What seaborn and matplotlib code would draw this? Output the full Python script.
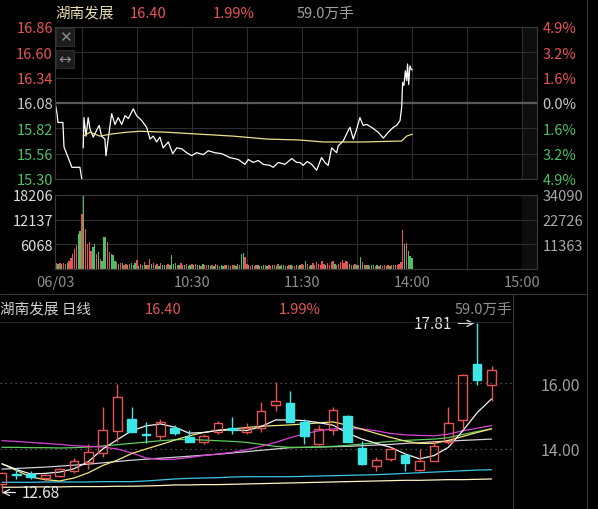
import matplotlib
matplotlib.use("Agg")
import matplotlib.pyplot as plt
import seaborn as sns
import numpy as np
from matplotlib.lines import Line2D
from matplotlib.patches import Rectangle

# ---------------- 数据 ----------------
stock_name = "湖南发展"
last_price = "16.40"
pct_change = "1.99%"
volume_text = "59.0万手"
prev_close = 16.08

# 分时价格（横轴: 距9:30的分钟数, 13:00 接 120）
auction_t = [-14.7, -13.6, -13.1, -10.4, -9.8, -6.5, -5.5, -1.1, -0.1]
auction_p = [16.09, 15.97, 15.88, 15.88, 15.63, 15.47, 15.42, 15.42, 15.30]

price_t = [0.7, 1.1, 2.2, 3.4, 4.4, 6.2, 8.0, 9.4, 10.7, 12.5,
           13.1, 14.3, 16.2, 18.0, 19.8, 21.7, 23.5, 25.3, 28.0, 29.8,
           32.6, 35.3, 37.1, 38.9, 40.7, 42.5, 44.3, 47.1, 49.5, 51.7,
           54.4, 57.1, 59.8, 62.6, 66.2, 68.9, 72.5, 76.2, 80.7, 85.3,
           88.9, 90.7, 93.4, 96.2, 98.9, 102.5, 104.3, 107.1, 110.7, 114.4,
           117.1, 118.9, 120.7, 122.9, 125.3, 128.0, 130.7, 132.5, 134.3, 136.2,
           138.9, 139.8, 142.5, 145.3, 146.2, 148.0, 149.8, 151.6, 153.4, 155.3,
           158.0, 161.6, 164.4, 167.1, 169.8, 171.7, 173.5, 174.4, 174.9, 175.6,
           176.4, 177.1, 177.6, 178.2, 178.9, 179.5, 180.2]
price_p = [15.62, 15.93, 15.74, 15.93, 15.81, 15.73, 15.80, 15.85, 15.74, 15.71,
           15.54, 15.71, 15.97, 15.86, 15.93, 15.86, 15.95, 15.92, 16.02, 15.95,
           15.90, 15.83, 15.71, 15.74, 15.68, 15.73, 15.62, 15.68, 15.56, 15.62,
           15.61, 15.57, 15.54, 15.57, 15.55, 15.59, 15.57, 15.56, 15.52, 15.50,
           15.45, 15.50, 15.47, 15.49, 15.45, 15.44, 15.42, 15.47, 15.45, 15.51,
           15.47, 15.47, 15.44, 15.48, 15.45, 15.39, 15.52, 15.47, 15.44, 15.62,
           15.57, 15.64, 15.69, 15.80, 15.83, 15.71, 15.81, 15.93, 15.85, 15.86,
           15.83, 15.78, 15.72, 15.78, 15.83, 15.85, 15.90, 16.04, 16.29, 16.26,
           16.41, 16.31, 16.48, 16.27, 16.46, 16.43, 16.42]

avg_t = [0.7, 4.4, 9.8, 15.3, 24.4, 31.6, 46.2, 64.4, 82.5, 100.7, 118.9, 131.6, 153.4, 174.4, 177.1, 180.2]
avg_p = [15.74, 15.78, 15.74, 15.76, 15.78, 15.79, 15.78, 15.76, 15.74, 15.71, 15.70, 15.68, 15.68, 15.69, 15.74, 15.76]

price_ticks = [16.86, 16.60, 16.34, 16.08, 15.82, 15.56, 15.30]
pct_labels = ["4.9%", "3.2%", "1.6%", "0.0%", "1.6%", "3.2%", "4.9%"]

# 分时成交量
auction_vt = [-14, -13, -12, -11, -10, -9, -8, -7, -6, -5, -4, -3, -2, -1]
auction_v = [1400, 1300, 1400, 1200, 1400, 1300, 1500, 2000, 2800, 3600, 4800, 6000, 8600, 9400]
auction_dir = "rgrgrrgrrrrrgg"

vol = [13500, 18200, 9840, 6150, 6560, 4500, 5330, 6150, 3690, 4100,
       2460, 2050, 7950, 7800, 6560, 4100, 3690, 3500, 2050, 1640,
       1230, 1560, 1390, 1100, 1300, 900, 1200, 1500, 1000, 1400,
       2200, 800, 1300, 1000, 1600, 900, 1100, 2460, 1300, 1500,
       1000, 1200, 800, 1400, 1000, 1100, 900, 1300, 1000, 3440,
       1200, 1400, 1000, 900, 1500, 1100, 1000, 1300, 800, 1000,
       1200, 900, 1300, 1000, 1100, 800, 1200, 1000, 900, 1100,
       700, 1000, 800, 1200, 900, 700, 1000, 800, 1100, 900,
       1000, 700, 900, 1000, 800, 1200, 900, 3690, 3850, 3030,
       1200, 900, 800, 1000, 700, 900, 1100, 800, 700, 1000,
       900, 800, 1100, 700, 1000, 900, 800, 1200, 700, 900,
       1000, 800, 700, 900, 1100, 800, 700, 900, 800, 1000,
       1300, 1000, 1890, 1200, 800, 1100, 1400, 900, 1600, 1200,
       1000, 1890, 1300, 1100, 1500, 900, 1600, 1890, 1300, 1000,
       1200, 1700, 2200, 1500, 2000, 1700, 1300, 1000, 900, 1200,
       1100, 1000, 2870, 1600, 1000, 900, 1100, 800, 1000, 900,
       800, 1000, 700, 900, 800, 1000, 700, 900, 800, 1000,
       900, 1100, 1000, 1300, 1600, 9600, 6150, 6400, 4500, 3280,
       2700]
vol_dir = ("rgrrrrggrg" "rgggrrgggr" "grgrrgrggg" "rgrgrgrrgr" "grgrggrrgg"
           "ggrgrrgrgg" "rgrggrgrrg" "grgrgrggrg" "rgrrggrggr" "rgrgrrgrgg"
           "rgrrgrgrgg" "grgrgrrgrg" "rrgrrgrrrr" "rrrgrrrrgr" "rrrrrrgrgr"
           "grgrgrgrgg" "rgrgrrgrgr" "rgrrrrgrgg" "g")
vol_ticks = [6068, 12137, 18206]
amt_ticks = [11363, 22726, 34090]

time_ticks = [-14.5, 60, 120, 180, 240]
time_labels = ["06/03", "10:30", "11:30", "14:00", "15:00"]
grid_t = [0, 30, 60, 90, 120, 150, 180, 210, 240]

# 日K线
opens = [12.94, 13.25, 13.24, 13.13, 13.17, 13.32, 13.62, 13.88, 14.55, 14.90,
         14.45, 14.40, 14.63, 14.35, 14.20, 14.52, 14.64, 14.51, 14.63, 15.34,
         15.39, 14.83, 14.14, 14.59, 15.01, 14.03, 13.49, 13.70, 13.83, 13.36,
         13.65, 14.20, 14.88, 16.58, 15.94]
highs = [13.30, 13.42, 13.32, 13.23, 13.42, 13.72, 14.15, 15.26, 15.97, 15.26,
         14.81, 14.91, 14.73, 14.58, 14.45, 14.86, 14.96, 14.79, 15.43, 16.02,
         15.77, 14.91, 14.73, 15.26, 15.04, 14.25, 13.75, 14.07, 13.85, 14.00,
         14.25, 15.26, 16.27, 17.81, 16.52]
lows = [12.68, 13.09, 13.09, 13.04, 13.14, 13.27, 13.39, 13.75, 14.20, 14.50,
        14.18, 14.28, 14.43, 14.20, 14.15, 14.45, 14.45, 14.45, 14.51, 15.16,
        14.81, 14.15, 14.12, 14.42, 14.20, 13.52, 13.34, 13.65, 13.34, 13.34,
        13.63, 14.15, 14.61, 15.95, 15.46]
closes = [13.27, 13.22, 13.15, 13.20, 13.39, 13.65, 13.90, 14.58, 15.57, 14.52,
          14.42, 14.81, 14.47, 14.22, 14.40, 14.79, 14.58, 14.63, 15.16, 15.45,
          14.83, 14.38, 14.61, 15.18, 14.20, 13.55, 13.68, 14.00, 13.57, 13.64,
          14.10, 14.78, 16.25, 16.08, 16.40]

ma_white = [13.55, 13.38, 13.24, 13.26, 13.30, 13.40, 13.62, 14.00, 14.28, 14.55,
            14.70, 14.76, 14.66, 14.48, 14.50, 14.56, 14.58, 14.56, 14.68, 14.88,
            14.88, 14.86, 14.80, 14.72, 14.48, 14.30, 14.17, 14.05, 13.85, 13.70,
            13.80, 14.05, 14.55, 15.10, 15.52]
ma_yellow = [13.55, 13.35, 13.15, 13.07, 13.03, 13.12, 13.28, 13.50, 13.66, 13.86,
             14.00, 14.13, 14.27, 14.40, 14.50, 14.57, 14.61, 14.65, 14.69, 14.71,
             14.73, 14.76, 14.79, 14.82, 14.72, 14.60, 14.47, 14.35, 14.24, 14.17,
             14.17, 14.26, 14.38, 14.50, 14.61]
ma_magenta = [14.25, 14.23, 14.20, 14.17, 14.14, 14.10, 14.08, 14.06, 14.00, 13.88,
              13.73, 13.68, 13.69, 13.74, 13.80, 13.85, 13.90, 13.98, 14.08, 14.20,
              14.34, 14.46, 14.55, 14.61, 14.62, 14.61, 14.55, 14.47, 14.43, 14.41,
              14.40, 14.45, 14.55, 14.63, 14.71]
ma_green = [14.05, 14.05, 14.04, 14.04, 14.03, 14.04, 14.06, 14.09, 14.13, 14.17,
            14.21, 14.25, 14.28, 14.29, 14.27, 14.25, 14.23, 14.20, 14.14, 14.08,
            14.05, 14.05, 14.06, 14.08, 14.11, 14.15, 14.19, 14.23, 14.26, 14.28,
            14.30, 14.34, 14.44, 14.53, 14.61]
ma_grey = [13.39, 13.41, 13.43, 13.45, 13.48, 13.51, 13.54, 13.58, 13.62, 13.66,
           13.69, 13.72, 13.75, 13.78, 13.81, 13.84, 13.88, 13.92, 13.96, 14.00,
           14.04, 14.05, 14.06, 14.07, 14.08, 14.10, 14.12, 14.14, 14.17, 14.19,
           14.22, 14.24, 14.26, 14.28, 14.30]
ma_cyan = [12.99, 12.99, 12.99, 13.00, 13.00, 13.00, 13.00, 13.01, 13.01, 13.01,
           13.03, 13.06, 13.09, 13.11, 13.12, 13.13, 13.15, 13.16, 13.16, 13.16,
           13.16, 13.17, 13.18, 13.19, 13.20, 13.21, 13.22, 13.24, 13.26, 13.28,
           13.30, 13.32, 13.34, 13.36, 13.37]
ma_pale = [12.84, 12.84, 12.85, 12.85, 12.85, 12.86, 12.86, 12.86, 12.87, 12.87,
           12.88, 12.89, 12.91, 12.91, 12.92, 12.92, 12.93, 12.94, 12.95, 12.96,
           12.97, 12.98, 12.99, 13.00, 13.01, 13.02, 13.03, 13.04, 13.05, 13.05,
           13.06, 13.07, 13.07, 13.08, 13.09]
k_ticks = [16.0, 14.0]

# ---------------- 样式 ----------------
RED = "#e85454"
GREEN = "#4cc063"
CYAN = "#3ce6e6"
GRID = "#2e2e2e"
SPINE = "#383838"

sns.set_style("dark", {"axes.facecolor": "black", "figure.facecolor": "black"})
plt.rcParams["font.family"] = ["Noto Sans CJK SC", "DejaVu Sans"]

W, H = 598, 510
fig = plt.figure(figsize=(W / 100, H / 100), dpi=100)
fig.patch.set_facecolor("black")


def rect(x0, y0, x1, y1):
    return [x0 / W, 1 - y1 / H, (x1 - x0) / W, (y1 - y0) / H]


# ---------------- 分时价格 ----------------
ax_p = fig.add_axes(rect(55, 28, 537, 180))
ax_p.set_facecolor("black")
ax_p.axvspan(240, 248.2, color="#0e0e0e", zorder=0)
ax_p.axhline(prev_close, color="#5a5a5a", lw=1.6, zorder=1)
sns.lineplot(x=auction_t, y=auction_p, ax=ax_p, color="white", lw=0.9, estimator=None, sort=False)
sns.lineplot(x=price_t, y=price_p, ax=ax_p, color="white", lw=0.9, estimator=None, sort=False)
sns.lineplot(x=avg_t, y=avg_p, ax=ax_p, color="#e9e08c", lw=0.9, estimator=None, sort=False)
ax_p.set_xlim(-14.7, 248.2)
ax_p.set_ylim(price_ticks[-1], price_ticks[0])
ax_p.set_xlabel("")
ax_p.set_ylabel("")
ax_p.set_xticks(grid_t)
ax_p.set_yticks(price_ticks)
ax_p.set_yticklabels([f"{v:.2f}" for v in price_ticks])
tick_colors = [RED, RED, RED, "#c8c8c8", GREEN, GREEN, GREEN]
for lab, c in zip(ax_p.get_yticklabels(), tick_colors):
    lab.set_color(c)
ax_p.tick_params(axis="y", length=0, pad=1.5, labelsize=10.5)
ax_p.tick_params(axis="x", length=0, labelbottom=False)
ax_p.grid(True, color=GRID, lw=0.8)
for sp in ax_p.spines.values():
    sp.set_color(SPINE)
    sp.set_linewidth(0.8)

ax_p2 = ax_p.twinx()
ax_p2.set_ylim(ax_p.get_ylim())
ax_p2.set_yticks(price_ticks)
ax_p2.set_yticklabels(pct_labels)
for lab, c in zip(ax_p2.get_yticklabels(), tick_colors):
    lab.set_color(c)
ax_p2.tick_params(axis="y", length=0, pad=4, labelsize=10.5)
ax_p2.grid(False)
for sp in ax_p2.spines.values():
    sp.set_color(SPINE)
    sp.set_linewidth(0.8)

# 小按钮
for (y0, glyph) in [(29, "✕"), (51, "↔")]:
    fig.add_artist(Rectangle((56 / W, 1 - (y0 + 18) / H), 18 / W, 18 / H,
                             facecolor="#1c1c1c", edgecolor="#2c2c2c", lw=0.8))
    fig.text(65 / W, 1 - (y0 + 9) / H, glyph, color="#8c8c8c", fontsize=11,
             ha="center", va="center", family=["DejaVu Sans"])

# ---------------- 分时成交量 ----------------
ax_v = fig.add_axes(rect(55, 196, 537, 270))
ax_v.set_facecolor("black")
ax_v.axvspan(240, 248.2, color="#0e0e0e", zorder=0)
ax_v.bar(auction_vt, auction_v, width=0.7, linewidth=0,
         color=[RED if d == "r" else GREEN for d in auction_dir], zorder=2)
ax_v.bar(range(len(vol)), vol, width=0.7, linewidth=0,
         color=[RED if d == "r" else GREEN for d in vol_dir], zorder=2)
ax_v.set_xlim(-14.7, 248.2)
ax_v.set_ylim(0, vol_ticks[-1])
ax_v.set_yticks(vol_ticks)
ax_v.set_yticklabels([str(v) for v in vol_ticks], color="#dcdcdc")
ax_v.set_xticks(time_ticks)
ax_v.set_xticklabels(time_labels, color="#8c8c8c")
ax_v.set_xticks(grid_t, minor=True)
ax_v.tick_params(axis="both", which="both", length=0, labelsize=10.5)
ax_v.tick_params(axis="y", pad=1.5)
ax_v.tick_params(axis="x", pad=4)
ax_v.grid(False)
ax_v.grid(True, which="minor", axis="x", color=GRID, lw=0.8)
ax_v.grid(True, which="major", axis="y", color=GRID, lw=0.8)
for sp in ax_v.spines.values():
    sp.set_color(SPINE)
    sp.set_linewidth(0.8)

ax_v2 = ax_v.twinx()
ax_v2.set_ylim(0, amt_ticks[-1])
ax_v2.set_yticks(amt_ticks)
ax_v2.set_yticklabels([str(v) for v in amt_ticks], color="#a8a8a8")
ax_v2.tick_params(axis="y", length=0, pad=4, labelsize=10.5)
ax_v2.grid(False)
for sp in ax_v2.spines.values():
    sp.set_color(SPINE)
    sp.set_linewidth(0.8)

# ---------------- 日K线 ----------------
ax_k = fig.add_axes(rect(0, 295, 513, 510))
ax_k.set_facecolor("black")
idx = np.arange(len(closes))
o = np.array(opens)
c = np.array(closes)
hi = np.array(highs)
lo = np.array(lows)
up = c >= o
top = np.maximum(o, c)
bot = np.minimum(o, c)

ma_lines = [(ma_pale, "#fff4c4"), (ma_cyan, "#3cc4e6"), (ma_grey, "#d4ccd8"),
            (ma_green, "#5cd05c"), (ma_magenta, "#d544d5"), (ma_yellow, "#f2e47c"),
            (ma_white, "#f4f4f4")]
for vals, col in ma_lines:
    sns.lineplot(x=idx, y=vals, ax=ax_k, color=col, lw=0.9, estimator=None, zorder=2)

kcol = np.where(up, RED, CYAN)
ax_k.vlines(idx, lo, bot, colors=kcol, lw=1.0, zorder=3)
ax_k.vlines(idx, top, hi, colors=kcol, lw=1.0, zorder=3)
ax_k.bar(idx, np.maximum(top - bot, 0.02), bottom=bot, width=0.6,
         facecolor=np.where(up, "none", CYAN), edgecolor=kcol, lw=1.0, zorder=4)

hi_i = int(np.argmax(hi))
lo_i = int(np.argmin(lo))
ax_k.annotate(f"{hi[hi_i]:.2f}", xy=(hi_i, hi[hi_i]), xytext=(-18, 0),
              textcoords="offset points", ha="right", va="center",
              color="#e6e6e6", fontsize=11,
              arrowprops=dict(arrowstyle="->", color="#e6e6e6", lw=0.9, shrinkA=2, shrinkB=2))
ax_k.annotate(f"{lo[lo_i]:.2f}", xy=(lo_i, lo[lo_i]), xytext=(14, 0),
              textcoords="offset points", ha="left", va="center",
              color="#e6e6e6", fontsize=11,
              arrowprops=dict(arrowstyle="->", color="#e6e6e6", lw=0.9, shrinkA=2, shrinkB=0))

ax_k.set_xlim(-0.14, 35.49)
ax_k.set_ylim(12.18, 18.70)
ax_k.set_xlabel("")
ax_k.set_ylabel("")
ax_k.set_xticks([])
ax_k.yaxis.tick_right()
ax_k.set_yticks(k_ticks)
ax_k.set_yticklabels([f"{v:.2f}" for v in k_ticks], color="#a0a0a0")
ax_k.tick_params(axis="y", length=0, pad=20, labelsize=11.5)
ax_k.grid(False)
ax_k.grid(True, axis="y", color="#6a6a6a", lw=0.9, linestyle=(0, (1, 3)))
for name, sp in ax_k.spines.items():
    sp.set_visible(name == "right")
    sp.set_color(SPINE)

# ---------------- 文字与分隔线 ----------------
fig.text(55 / W, 1 - 14 / H, stock_name, color="#e6ddb0", fontsize=10.5, va="center")
fig.text(130 / W, 1 - 14 / H, last_price, color=RED, fontsize=10.5, va="center")
fig.text(213 / W, 1 - 14 / H, pct_change, color=RED, fontsize=10.5, va="center")
fig.text(297 / W, 1 - 14 / H, volume_text, color="#a0a0a0", fontsize=10.5, va="center")

fig.text(0, 1 - 310 / H, stock_name + " 日线", color="#d0d0d0", fontsize=10.5, va="center")
fig.text(145 / W, 1 - 310 / H, last_price, color=RED, fontsize=10.5, va="center")
fig.text(279 / W, 1 - 310 / H, pct_change, color=RED, fontsize=10.5, va="center")
fig.text(512 / W, 1 - 310 / H, volume_text, color="#909090", fontsize=10.5, va="center", ha="right")

fig.add_artist(Line2D([0, 587 / W], [1 - 295 / H, 1 - 295 / H], color=SPINE, lw=0.8))
fig.add_artist(Line2D([0, 513 / W], [1 - 323 / H, 1 - 323 / H], color="#2a2a2a", lw=0.8))
fig.add_artist(Line2D([587 / W, 587 / W], [0, 1], color=SPINE, lw=0.8))

fig.savefig("out.png", dpi=100, facecolor="black")
